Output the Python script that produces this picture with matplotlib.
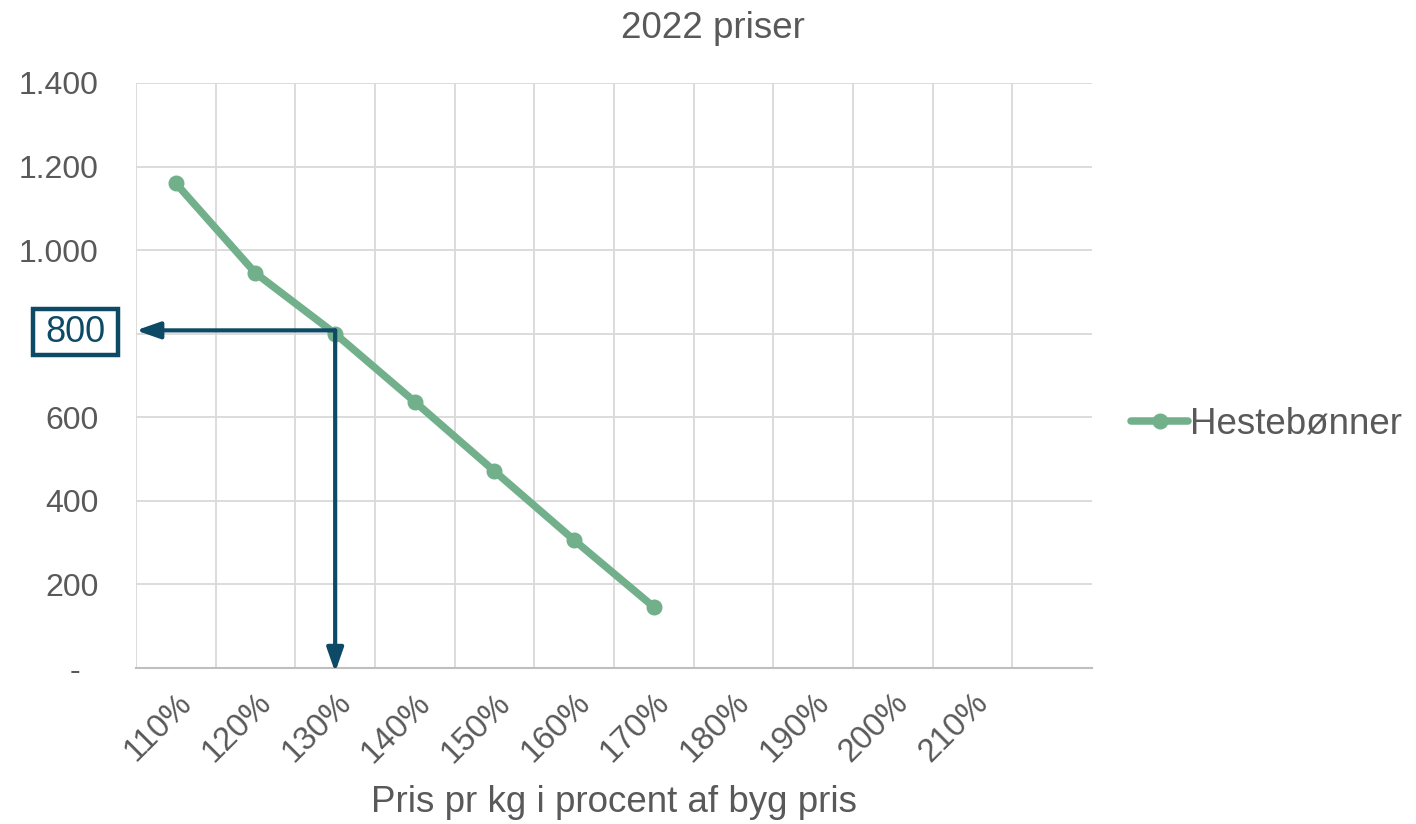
import matplotlib
matplotlib.use("Agg")
import matplotlib.pyplot as plt
from matplotlib.patches import Rectangle

plt.rcParams['font.family'] = ['Liberation Sans', 'DejaVu Sans']

title = "2022 priser"
x_title = "Pris pr kg i procent af byg pris"
categories = ["110%", "120%", "130%", "140%", "150%", "160%", "170%",
              "180%", "190%", "200%", "210%", ""]
series_name = "Hestebønner"
values = [1160, 945, 800, 637, 471, 306, 146]
y_ticks = [0, 200, 400, 600, 800, 1000, 1200, 1400]
y_tick_labels = ["-  ", "200", "400", "600", "800", "1.000", "1.200", "1.400"]
marked_value = 800
marked_category = "130%"

W, H = 1416, 824
fig = plt.figure(figsize=(W / 100, H / 100), dpi=100)
ax = fig.add_axes([136 / W, 1 - 668 / H, (1092 - 136) / W, (668 - 83) / H])

gray = "#595959"
green = "#71b08a"
navy = "#0c4a66"

xs = list(range(len(categories)))
ax.plot(xs[:len(values)], values, color=green, lw=5.4, marker='o', ms=10.5,
        solid_capstyle='round', label=series_name, zorder=3)

ax.set_xlim(-0.5, len(categories) - 0.5)
ax.set_ylim(0, 1400)
ax.set_yticks(y_ticks)
ax.set_yticklabels(y_tick_labels)
ax.set_xticks([x + 0.5 for x in xs[:-1]] + [-0.5], minor=True)
ax.set_xticks(xs)
ax.set_xticklabels(categories, rotation=45, ha='right', rotation_mode='anchor')
ax.grid(True, which='minor', axis='x', color='#d9d9d9', lw=1.3)
ax.grid(True, which='major', axis='y', color='#d9d9d9', lw=1.3)
ax.set_axisbelow(True)
ax.tick_params(which='both', length=0)
ax.tick_params(axis='y', labelsize=23, labelcolor=gray, pad=27)
ax.tick_params(axis='x', labelsize=23.5, labelcolor=gray, pad=14)
for s in ['top', 'right', 'left']:
    ax.spines[s].set_visible(False)
ax.spines['bottom'].set_color('#bfbfbf')
ax.spines['bottom'].set_linewidth(1.5)
# the boxed annotation covers the tick label of the marked value
for v, lab in zip(y_ticks, ax.get_yticklabels()):
    if v == marked_value:
        lab.set_visible(False)

# annotation arrows
cx = categories.index(marked_category)
arrow = dict(arrowstyle='-|>,head_length=0.8,head_width=0.28', color=navy, lw=3,
             mutation_scale=18, shrinkA=0, shrinkB=0)
ax.annotate("", xy=(-0.5, marked_value + 8), xytext=(cx, marked_value + 8),
            arrowprops=arrow, annotation_clip=False, zorder=4)
ax.annotate("", xy=(cx, -10), xytext=(cx, marked_value + 8),
            arrowprops=arrow, annotation_clip=False, zorder=4)
fig.patches.append(Rectangle((33 / W, 1 - 355 / H), 85 / W, 46 / H,
                             transform=fig.transFigure, fc='white', ec=navy,
                             lw=3.2, zorder=5))
fig.text(75.5 / W, 1 - 332 / H, str(marked_value), ha='center', va='center',
         fontsize=26, color=navy, zorder=6)

fig.text(0.5 + 5 / W, 1 - 28 / H, title, ha='center', va='center', fontsize=26.5,
         color=gray)
fig.text((136 + 1092) / 2 / W, 1 - 802 / H, x_title, ha='center', va='center',
         fontsize=26.5, color=gray)

leg = fig.legend(loc='center left', bbox_to_anchor=(1131 / W, 1 - 424 / H),
                 frameon=False, fontsize=26.5, handlelength=1.55, handletextpad=0.05,
                 borderaxespad=0, borderpad=0)
for t in leg.get_texts():
    t.set_color(gray)

fig.savefig("out.png", dpi=100)
